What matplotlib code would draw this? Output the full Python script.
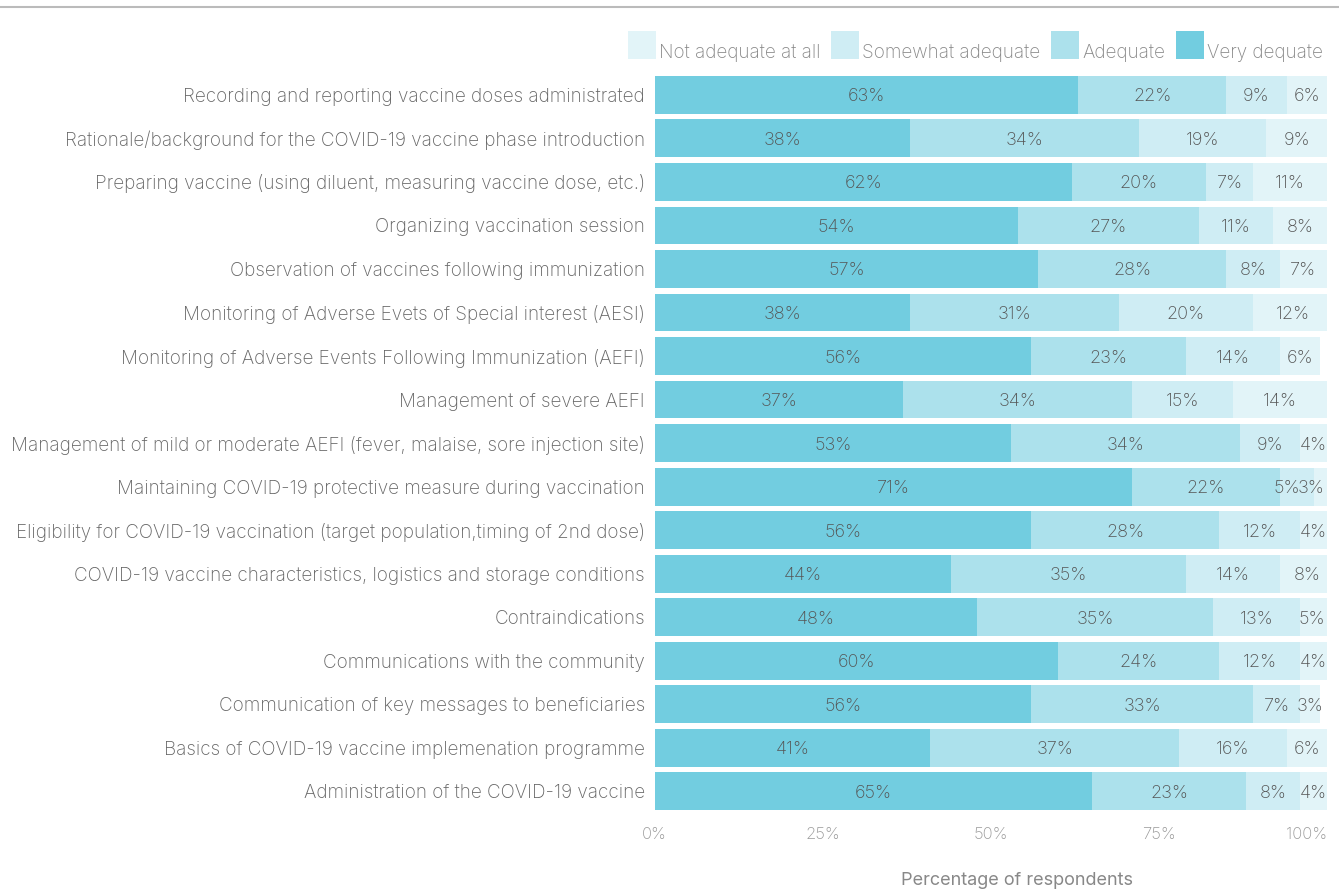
import matplotlib
matplotlib.use("Agg")
import matplotlib.pyplot as plt
from matplotlib.patches import Rectangle
from matplotlib.lines import Line2D

plt.rcParams["font.family"] = ["Inter", "DejaVu Sans"]
plt.rcParams["font.weight"] = "light"

# Training topics, listed top to bottom
topics = [
    "Recording and reporting vaccine doses administrated",
    "Rationale/background for the COVID-19 vaccine phase introduction",
    "Preparing vaccine (using diluent, measuring vaccine dose, etc.)",
    "Organizing vaccination session",
    "Observation of vaccines following immunization",
    "Monitoring of Adverse Evets of Special interest (AESI)",
    "Monitoring of Adverse Events Following Immunization (AEFI)",
    "Management of severe AEFI",
    "Management of mild or moderate AEFI (fever, malaise, sore injection site)",
    "Maintaining COVID-19 protective measure during vaccination",
    "Eligibility for COVID-19 vaccination (target population,timing of 2nd dose)",
    "COVID-19 vaccine characteristics, logistics and storage conditions",
    "Contraindications",
    "Communications with the community",
    "Communication of key messages to beneficiaries",
    "Basics of COVID-19 vaccine implemenation programme",
    "Administration of the COVID-19 vaccine",
]

# Share of respondents per rating (%)
very_adequate = [63, 38, 62, 54, 57, 38, 56, 37, 53, 71, 56, 44, 48, 60, 56, 41, 65]
adequate = [22, 34, 20, 27, 28, 31, 23, 34, 34, 22, 28, 35, 35, 24, 33, 37, 23]
somewhat_adequate = [9, 19, 7, 11, 8, 20, 14, 15, 9, 5, 12, 14, 13, 12, 7, 16, 8]
not_adequate = [6, 9, 11, 8, 7, 12, 6, 14, 4, 3, 4, 8, 5, 4, 3, 6, 4]

series = [
    ("Very dequate", very_adequate, "#72cde0"),
    ("Adequate", adequate, "#ace1ec"),
    ("Somewhat adequate", somewhat_adequate, "#cfedf4"),
    ("Not adequate at all", not_adequate, "#e2f4f8"),
]

W, H = 1339, 892
fig = plt.figure(figsize=(W / 100, H / 100), dpi=100)
ax = fig.add_axes([0.489, 0.0886, 0.502, 0.8294])

y = list(range(len(topics)))
left = [0] * len(topics)
labels = [[] for _ in topics]  # (x, text, ha) per row
for name, vals, color in series:
    ax.barh(y, vals, left=left, height=0.87, color=color, label=name)
    for i, v in enumerate(vals):
        labels[i].append([left[i] + v / 2, f"{v}%", "center"])
    left = [l + v for l, v in zip(left, vals)]

# rough label width in data units (about 12 px per character, 6.7 px per %)
def half_width(t):
    return len(t) * 12 / 6.7 / 2

for i, row in enumerate(labels):
    last = row[-1]
    if last[0] + half_width(last[1]) > 100:
        last[0], last[2] = 99.7, "right"
        edge = last[0] - 2 * half_width(last[1])
        prev = row[-2]
        if prev[0] + half_width(prev[1]) > edge:
            prev[0], prev[2] = edge - 0.1, "right"
    for x, t, ha in row:
        ax.text(x, i, t, ha=ha, va="center_baseline", fontsize=13, color="#555555")

ax.set_ylim(len(topics) - 0.5, -0.5)
ax.set_xlim(0, 100)
ax.set_yticks(y)
ax.set_yticklabels(topics, fontsize=13.6, color="#666666")
ax.set_xticks([0, 25, 50, 75, 100])
ax.set_xticklabels(["0%", "25%", "50%", "75%", "100%"], fontsize=12, color="#999999")
ax.get_xticklabels()[-1].set_ha("right")
ax.tick_params(axis="both", length=0)
ax.tick_params(axis="x", pad=10)
ax.tick_params(axis="y", pad=7)
for s in ax.spines.values():
    s.set_visible(False)

ax.set_xlabel("Percentage of respondents", fontsize=13, color="#888888")
ax.xaxis.set_label_coords(0.539, -0.08)

# Legend drawn right to left: square swatch with its text sitting on the same base
renderer = fig.canvas.get_renderer()
x = 1323
for name, _, color in series:
    t = fig.text(x / W, 1 - 58 / H, name, ha="right", va="baseline",
                 fontsize=13.6, color="#888888")
    x -= t.get_window_extent(renderer).width + 3
    fig.add_artist(Rectangle(((x - 28) / W, 1 - 59 / H), 28 / W, 28 / H,
                             transform=fig.transFigure, color=color, lw=0))
    x -= 28 + 11

# Thin rule across the top
fig.add_artist(Line2D([0, 1], [1 - 7 / H, 1 - 7 / H], color="#bbbbbb", lw=1.5))

fig.savefig("out.png", dpi=100)
